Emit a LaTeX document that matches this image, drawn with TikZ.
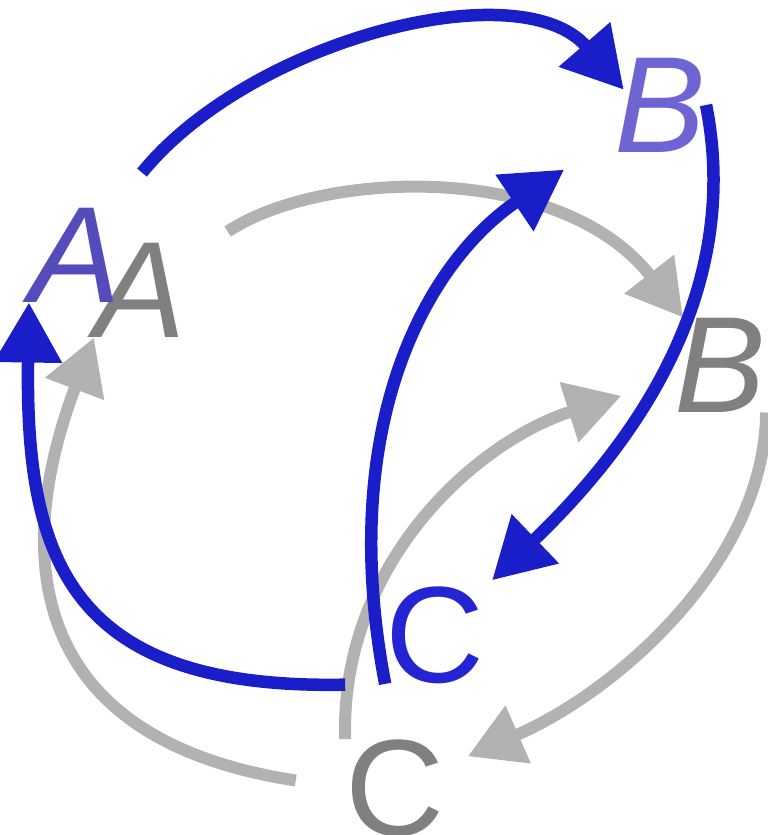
\documentclass[tikz,border=0pt]{standalone}
\usepackage{fontspec}
\setmainfont{Liberation Sans}
\usepackage{tikz}
\usetikzlibrary{arrows.meta}
\definecolor{cycblue}{RGB}{26,30,200}
\definecolor{cycgray}{RGB}{178,178,178}
\definecolor{lblA}{RGB}{84,76,186}
\definecolor{lblB}{RGB}{110,100,210}
\definecolor{lblC}{RGB}{36,36,210}
\definecolor{lblgray}{RGB}{128,128,128}

\begin{document}
\begin{tikzpicture}[x=0.2mm, y=-0.2mm,
    lbl/.style={inner sep=0pt, font=\fontsize{78}{80}\selectfont},
    bluearr/.style={draw=cycblue, line width=2.5mm, -{Triangle[length=12mm,width=13mm]}},
    grayarr/.style={draw=cycgray, line width=2.4mm, -{Triangle[length=11mm,width=12mm]}}]
  \useasboundingbox (0,0) rectangle (767,835);
  % grey cycle (behind)
  \node[lbl, text=lblgray] (gA) at (140,290) {\itshape A};
  \node[lbl, text=lblgray] (gB) at (720,365) {\itshape B};
  \node[lbl, text=lblgray] (gC) at (395,788) {C};
  \draw[grayarr, shorten <=10mm] (gA) .. controls (320,170) and (560,160) .. (gB);
  \draw[grayarr, shorten >=5mm] (gB.south east) .. controls (765,560) and (620,690) .. (gC);
  \draw[grayarr, shorten >=11mm] (gC.north west) .. controls (340,560) and (480,440) .. (gB);
  \draw[grayarr, shorten <=10mm] (gC.west) .. controls (30,740) and (10,560) .. (gA.south west);
  % blue cycle
  \node[lbl, text=lblA] (bA) at (75,255) {\itshape A};
  \node[lbl, text=lblB] (bB) at (660,105) {\itshape B};
  \node[lbl, text=lblC] (bC) at (435,635) {C};
  \draw[bluearr, shorten <=9mm, shorten >=-3mm] (bA) .. controls (250,40) and (520,-30) .. (bB.150);
  \draw[bluearr, shorten >=2mm] (bB.east) .. controls (735,250) and (680,400) .. (bC);
  \draw[bluearr, shorten >=12mm] (bC.south west) .. controls (335,420) and (430,260) .. (bB);
  \draw[bluearr, shorten <=8mm] (bC.south west) .. controls (70,690) and (25,560) .. (bA.south west);
\end{tikzpicture}
\end{document}
